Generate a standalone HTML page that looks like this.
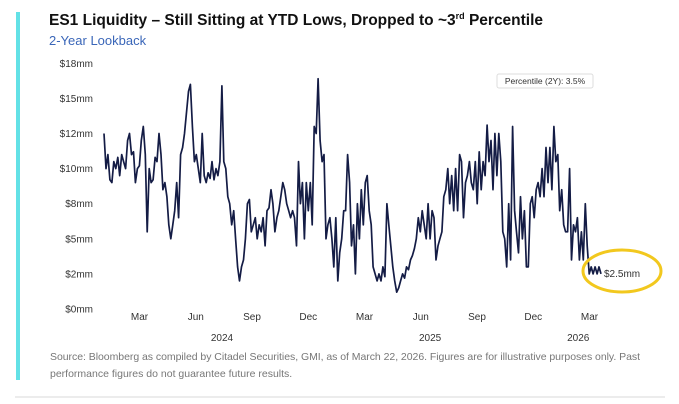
<!DOCTYPE html>
<html><head><meta charset="utf-8"><style>
body{margin:0;background:#fff;width:679px;height:404px;overflow:hidden;font-family:"Liberation Sans",sans-serif}
svg{display:block}
</style></head><body>
<svg id="c" width="679" height="404">
<rect x="16" y="12" width="4" height="368" fill="#63e1e6"/>
<text x="49" y="25" font-size="15.5" font-weight="bold" fill="#111">ES1 Liquidity – Still Sitting at YTD Lows, Dropped to ~3<tspan font-size="9" dy="-6">rd</tspan><tspan dy="6"> Percentile</tspan></text>
<text x="49" y="45" font-size="13" fill="#3a66b8">2-Year Lookback</text>
<g id="yax"></g><g id="xax"></g>
<path id="line" fill="none" stroke="#141c45" stroke-width="1.7" stroke-linejoin="round"/>
<rect x="497" y="74" width="96" height="14" fill="#fff" stroke="#ddd" rx="2"/>
<text x="545" y="84" font-size="8.5" text-anchor="middle" fill="#333">Percentile (2Y): 3.5%</text>
<text x="604" y="277" font-size="10" fill="#333">$2.5mm</text>
<ellipse cx="622" cy="271" rx="39" ry="21" fill="none" stroke="#f2c81e" stroke-width="3"/>
<text x="50" y="360" font-size="10.5" fill="#777" textLength="590">Source: Bloomberg as compiled by Citadel Securities, GMI, as of March 22, 2026. Figures are for illustrative purposes only. Past</text>
<text x="50" y="377" font-size="10.5" fill="#777">performance figures do not guarantee future results.</text>
<line x1="15" y1="397" x2="665" y2="397" stroke="#e6e6e6" stroke-width="1.5"/>
</svg>
<script>
const yTicks=[0,2.5,5,7.5,10,12.5,15,17.5];
const yLabels=["$0mm","$2mm","$5mm","$8mm","$10mm","$12mm","$15mm","$18mm"];
const monthLabels=["Mar","Jun","Sep","Dec","Mar","Jun","Sep","Dec","Mar"];
const monthIdx=[2,5,8,11,14,17,20,23,26];
const yearLabels=["2024","2025","2026"];
const yearPos=[6.4,17.5,25.4];
const values=[12.5,10,11,9.2,9,10.5,10,10.8,9.5,11,10.5,10,12,12.5,11,11.2,9,10,10.2,12,13,11,5.5,10,9,9.2,10.8,10.5,12.5,11,8.5,9,8,6,5,6,7,9,6.5,11,11.5,12.5,14,15.5,16,13,10.5,11,10,9,12.5,9.5,9,9.7,9.3,10.5,9.2,10,9.5,10.5,15.9,10.5,10,8,7.5,6,7,5,3,2,3,3.5,5,7.5,7.8,5.5,6,6.5,5,6,5.5,6.5,4.5,7,7.2,8.5,7.5,5.5,6.5,7,8,9,8.5,7.5,7,6.5,7,6.5,4.5,10.5,7.5,9,5,9,7,9,6,13,12.5,16.4,12,10.5,11,5,6,6.5,5,3,6.5,2,4,5,7,7,11,9,4.5,6,2.5,7.5,5,8.5,6,9,9.5,7,6,3,2.5,2,2.5,2,3,2.3,7.5,6,4.5,3,2,1.2,1.5,2,2.5,2.2,3,2.8,3.5,3.8,4.3,5,6.5,5.5,7,6,5,7.5,5,7,6.5,3.5,4.5,5,5.5,8,8.5,10,7.5,9.5,7,10,7,11,10.5,6.5,9,9.5,10.5,9,8.5,10.5,7.5,11.2,8.5,10.5,9.5,13.1,10.5,12,8.5,12.5,9.5,12.5,10.5,5.5,5,3,7.5,3.5,13,7,5.5,4,8,5,7,3,3,7.5,8,6.5,8.5,9,8,10,8,11.5,9,11.5,8.5,13,10.5,11,7,8.5,6,5.5,5.5,10,3.5,6,5.5,6.5,3.5,5.5,3.5,7.5,4.5,2.5,3,2.5,3,2.5,3,2.5];
const svg=document.getElementById('c');
const NS='http://www.w3.org/2000/svg';
const y=v=>309-v*14.04;
const mx=m=>102+m*18.75;
const x=i=>104+i*(601-104)/(values.length-1);
const yax=document.getElementById('yax');
yTicks.forEach((t,i)=>{const e=document.createElementNS(NS,'text');
e.setAttribute('x',93);e.setAttribute('y',y(t)+3.5);e.setAttribute('text-anchor','end');e.setAttribute('font-size','10');e.setAttribute('fill','#333');


e.textContent=yLabels[i];yax.appendChild(e);});
const xax=document.getElementById('xax');
monthLabels.forEach((m,i)=>{const e=document.createElementNS(NS,'text');
e.setAttribute('x',mx(monthIdx[i]));e.setAttribute('y',320);e.setAttribute('text-anchor','middle');e.setAttribute('font-size','10');e.setAttribute('fill','#333');


e.textContent=m;xax.appendChild(e);});
yearLabels.forEach((m,i)=>{const e=document.createElementNS(NS,'text');
e.setAttribute('x',mx(yearPos[i]));e.setAttribute('y',341);e.setAttribute('text-anchor','middle');e.setAttribute('font-size','10');e.setAttribute('fill','#333');


e.textContent=m;xax.appendChild(e);});
document.getElementById('line').setAttribute('d',values.map((v,i)=>(i?'L':'M')+x(i).toFixed(1)+','+y(v).toFixed(1)).join(''));
</script>
</body></html>
